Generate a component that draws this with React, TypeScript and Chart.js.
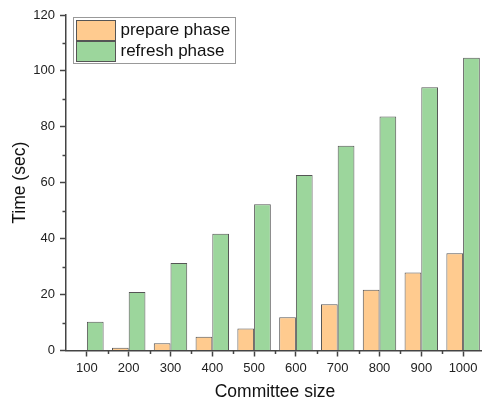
import React, { useEffect, useRef } from "react";
import { Chart, registerables } from "chart.js";

Chart.register(...registerables);

const categories = ["100", "200", "300", "400", "500", "600", "700", "800", "900", "1000"];
const prepareValues = [0.2, 1.0, 2.6, 4.9, 7.9, 11.9, 16.5, 21.7, 27.9, 34.8];
const refreshValues = [10.3, 20.9, 31.3, 41.8, 52.3, 62.8, 73.2, 83.7, 94.2, 104.7];
const seriesNames = ["prepare phase", "refresh phase"];
const yMin = 0;
const yMax = 120;
const yMajorStep = 20;
const yMinorStep = 10;

const AXIS_COLOR = "#444444";
const FONT = "'Liberation Sans', Arial, sans-serif";

const minorTicksPlugin = {
  id: "minorTicks",
  afterDraw(chart: any) {
    const ctx = chart.ctx;
    const x = chart.scales.x;
    const y = chart.scales.y;
    ctx.save();
    ctx.strokeStyle = AXIS_COLOR;
    ctx.lineWidth = 1.5;
    ctx.beginPath();
    for (let v = yMin + yMinorStep; v < yMax; v += yMajorStep) {
      const py = Math.round(y.getPixelForValue(v)) + 0.5;
      ctx.moveTo(x.left - 3.5, py);
      ctx.lineTo(x.left, py);
    }
    for (let i = 0; i < categories.length; i++) {
      const a = x.getPixelForValue(i);
      const b = i + 1 < categories.length ? x.getPixelForValue(i + 1) : a + (a - x.getPixelForValue(i - 1));
      const px = Math.round((a + b) / 2) + 0.5;
      ctx.moveTo(px, y.bottom);
      ctx.lineTo(px, y.bottom + 3.5);
    }
    ctx.stroke();
    ctx.restore();
  },
};

const boxLegendPlugin = {
  id: "boxLegend",
  afterDraw(chart: any) {
    const ctx = chart.ctx;
    const area = chart.chartArea;
    const bx = area.left + 7.5;
    const by = area.top + 2.5;
    const bw = 162;
    const bh = 46;
    ctx.save();
    ctx.fillStyle = "#ffffff";
    ctx.fillRect(bx, by, bw, bh);
    ctx.strokeStyle = "#999999";
    ctx.lineWidth = 1;
    ctx.strokeRect(bx, by, bw, bh);
    chart.data.datasets.forEach((ds: any, i: number) => {
      const sy = by + 3 + i * 21;
      ctx.fillStyle = ds.backgroundColor;
      ctx.fillRect(bx + 3, sy, 39, 20);
      ctx.strokeStyle = "#555555";
      ctx.lineWidth = 1;
      ctx.strokeRect(bx + 3, sy, 39, 20);
      ctx.fillStyle = "#111111";
      ctx.font = `17px ${FONT}`;
      ctx.textBaseline = "middle";
      ctx.textAlign = "left";
      ctx.fillText(ds.label, bx + 47, sy + 10);
    });
    ctx.restore();
  },
};

export default function App() {
  const ref = useRef<HTMLCanvasElement | null>(null);

  useEffect(() => {
    if (!ref.current) return;
    const chart = new Chart(ref.current, {
      type: "bar",
      data: {
        labels: categories,
        datasets: [
          {
            label: seriesNames[0],
            data: prepareValues,
            backgroundColor: "#FFCB8F",
            borderColor: "#555555",
            borderWidth: 1,
          },
          {
            label: seriesNames[1],
            data: refreshValues,
            backgroundColor: "#9CD69C",
            borderColor: "#555555",
            borderWidth: 1,
          },
        ],
      },
      options: {
        responsive: false,
        animation: false,
        events: [],
        layout: { padding: { left: 0, top: 15, right: 2, bottom: 0 } },
        datasets: { bar: { categoryPercentage: 0.8, barPercentage: 1.0 } },
        plugins: {
          legend: { display: false },
          tooltip: { enabled: false },
        },
        scales: {
          x: {
            offset: true,
            grid: {
              offset: false,
              drawOnChartArea: false,
              drawTicks: true,
              tickLength: 6,
              tickColor: AXIS_COLOR,
              tickWidth: 1.5,
            },
            border: { display: true, color: AXIS_COLOR, width: 1.5 },
            ticks: {
              color: "#222222",
              font: { family: FONT, size: 13 },
              padding: 4,
              maxRotation: 0,
              autoSkip: false,
            },
            title: {
              display: true,
              text: "Committee size",
              color: "#111111",
              font: { family: FONT, size: 17.5 },
              padding: { top: 0, bottom: 2 },
            },
            afterFit(scale: any) {
              scale.height = 54.5;
            },
          },
          y: {
            min: yMin,
            max: yMax,
            grid: {
              drawOnChartArea: false,
              drawTicks: true,
              tickLength: 6,
              tickColor: AXIS_COLOR,
              tickWidth: 1.5,
            },
            border: { display: true, color: AXIS_COLOR, width: 1.5 },
            ticks: {
              stepSize: yMajorStep,
              color: "#222222",
              font: { family: FONT, size: 13 },
              padding: 5,
            },
            title: {
              display: true,
              text: "Time (sec)",
              color: "#111111",
              font: { family: FONT, size: 17.5 },
              padding: { top: 10, bottom: 0 },
            },
            afterFit(scale: any) {
              scale.width = 66;
            },
          },
        },
      },
      plugins: [minorTicksPlugin, boxLegendPlugin],
    });
    return () => chart.destroy();
  }, []);

  return (
    <div
      style={{
        position: "absolute",
        left: 0,
        top: 0,
        width: 482,
        height: 405,
        overflow: "hidden",
        background: "#ffffff",
      }}
    >
      <canvas ref={ref} width={486} height={405} style={{ width: 486, height: 405, display: "block" }} />
    </div>
  );
}
